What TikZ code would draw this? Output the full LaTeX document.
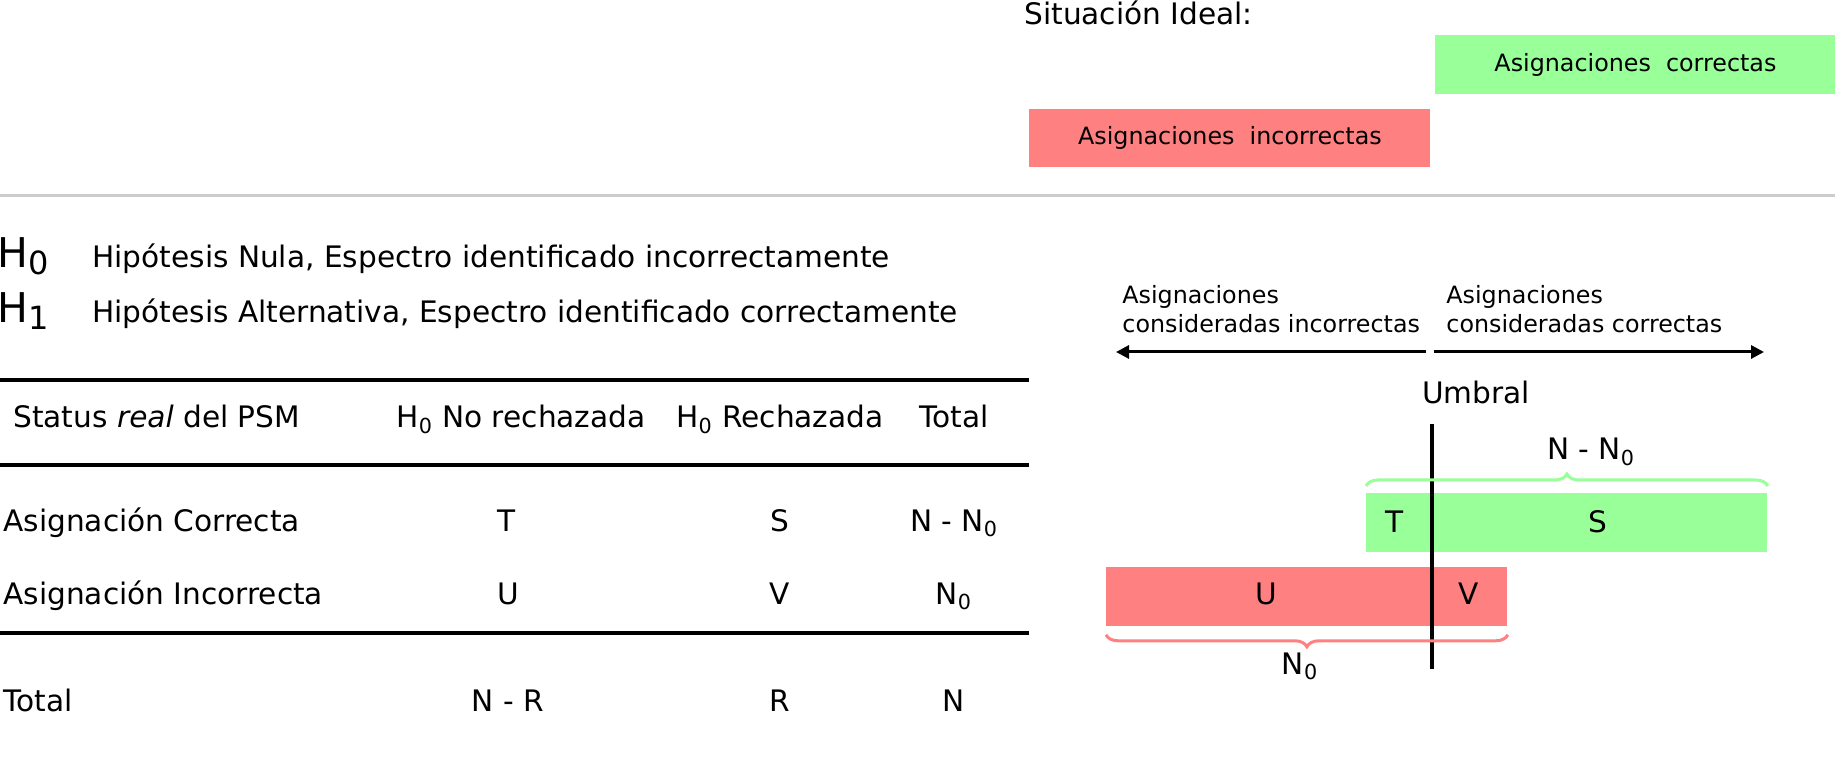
\documentclass[tikz,border=0pt]{standalone}
\usepackage{fontspec}
\setmainfont{DejaVu Sans}
\usetikzlibrary{arrows.meta,positioning,decorations.pathreplacing}
\definecolor{okgreen}{RGB}{153,255,153}
\definecolor{badred}{RGB}{255,128,128}
\definecolor{sepgray}{RGB}{204,204,204}
\newcommand{\Zsub}{\textsubscript{0}}
\newcommand{\Hsub}[1]{H\raisebox{-3.5pt}{\fontsize{16}{18}\selectfont #1}}
\tikzset{
  lbl/.style={font=\fontsize{14.8}{18}\selectfont, inner sep=0pt},
  sml/.style={font=\fontsize{11.9}{14.5}\selectfont, inner sep=0pt},
  bigh/.style={font=\fontsize{20.5}{24}\selectfont, inner sep=0pt},
  okbox/.style={fill=okgreen, inner sep=0pt, anchor=north west},
  badbox/.style={fill=badred, inner sep=0pt, anchor=north west},
  rul/.style={line width=1.6pt},
  dirarr/.style={-{Triangle[length=6.5pt,width=6.5pt]}, line width=1.5pt},
  thr/.style={line width=2pt},
  okbr/.style={okgreen, line width=1.5pt, decorate, decoration={brace, amplitude=6pt}},
  badbr/.style={badred, line width=1.5pt, decorate, decoration={brace, amplitude=6pt}},
}
\begin{document}
\begin{tikzpicture}[x=0.5pt, y=-0.5pt]
  \useasboundingbox (0,0) rectangle (1835,758);
  % situacion ideal
  \node[lbl, anchor=base west] (ideal) at (1024,25) {Situación Ideal:};
  \node[okbox, sml, minimum width=200pt, minimum height=29.5pt] (idealok) at (1435,35) {Asignaciones\ \ correctas};
  \node[badbox, sml, minimum width=200.5pt, minimum height=29pt] (idealbad) at (1029,109) {Asignaciones\ \ incorrectas};
  \draw[sepgray, line width=1.5pt] (0,196) -- (1835,196);

  % hipotesis
  \node[bigh, anchor=base west] (h0) at (-3,268) {\Hsub{0}};
  \node[lbl, anchor=base west] (h0txt) at (92,268) {Hipótesis Nula, Espectro identificado incorrectamente};
  \node[bigh, anchor=base west] (h1) at (-3,323) {\Hsub{1}};
  \node[lbl, anchor=base west] (h1txt) at (92,323) {Hipótesis Alternativa, Espectro identificado correctamente};

  % tabla
  \draw[rul] (0,380) -- (1029,380);
  \draw[rul] (0,465) -- (1029,465);
  \draw[rul] (0,633) -- (1029,633);
  \node[lbl, anchor=base west] (hdr) at (13,428) {Status \textit{real} del PSM};
  \node[lbl, anchor=base] (hdrnr) at (521,428) {H\Zsub{} No rechazada};
  \node[lbl, anchor=base] (hdrr) at (780,428) {H\Zsub{} Rechazada};
  \node[lbl, anchor=base] (hdrtot) at (954,428) {Total};
  \node[lbl, anchor=base west] (rowok) at (3,531) {Asignación Correcta};
  \node[lbl, anchor=base] (okt) at (507,531) {T};
  \node[lbl, anchor=base] (oks) at (780,531) {S};
  \node[lbl, anchor=base] (oktot) at (954,531) {N - N\Zsub};
  \node[lbl, anchor=base west] (rowbad) at (3,604) {Asignación Incorrecta};
  \node[lbl, anchor=base] (badu) at (508,604) {U};
  \node[lbl, anchor=base] (badv) at (780,604) {V};
  \node[lbl, anchor=base] (badtot) at (954,604) {N\Zsub};
  \node[lbl, anchor=base west] (rowtot) at (3,711) {Total};
  \node[lbl, anchor=base] (totnr) at (508,711) {N - R};
  \node[lbl, anchor=base] (totr) at (780,711) {R};
  \node[lbl, anchor=base] (totn) at (954,711) {N};

  % umbral
  \node[sml, anchor=base west, align=left] (lefttxt) at (1122,333) {Asignaciones\\consideradas incorrectas};
  \node[sml, anchor=base west, align=left] (righttxt) at (1446,333) {Asignaciones\\consideradas correctas};
  \coordinate (lfrom) at (1426,352);
  \coordinate (lto) at (1116,352);
  \coordinate (rfrom) at (1434,352);
  \coordinate (rto) at (1764,352);
  \draw[dirarr] (lfrom) -- (lto);
  \draw[dirarr] (rfrom) -- (rto);
  \node[lbl, anchor=base] (umbral) at (1476,404) {Umbral};
  \node[okbox, minimum width=200.5pt, minimum height=29.5pt] (okbar) at (1366,493) {};
  \node[badbox, minimum width=200.5pt, minimum height=29.5pt] (badbar) at (1106,567) {};
  \coordinate (thrtop) at (1432,424);
  \coordinate (thrbot) at (1432,669);
  \draw[thr] (thrtop) -- (thrbot);
  \node[lbl, anchor=base] (tcell) at (1395,532) {T};
  \node[lbl, anchor=base] (scell) at (1598,532) {S};
  \node[lbl, anchor=base] (ucell) at (1266,604) {U};
  \node[lbl, anchor=base] (vcell) at (1469,604) {V};
  \draw[okbr] ([yshift=3.5pt]okbar.north west) -- ([yshift=3.5pt]okbar.north east);
  \node[lbl, anchor=base] (nminus) at (1591,460) {N - N\Zsub};
  \draw[badbr] ([yshift=-4pt]badbar.south east) -- ([yshift=-4pt]badbar.south west);
  \node[lbl, anchor=base] (nzero) at (1300,674) {N\Zsub};
\end{tikzpicture}
\end{document}
